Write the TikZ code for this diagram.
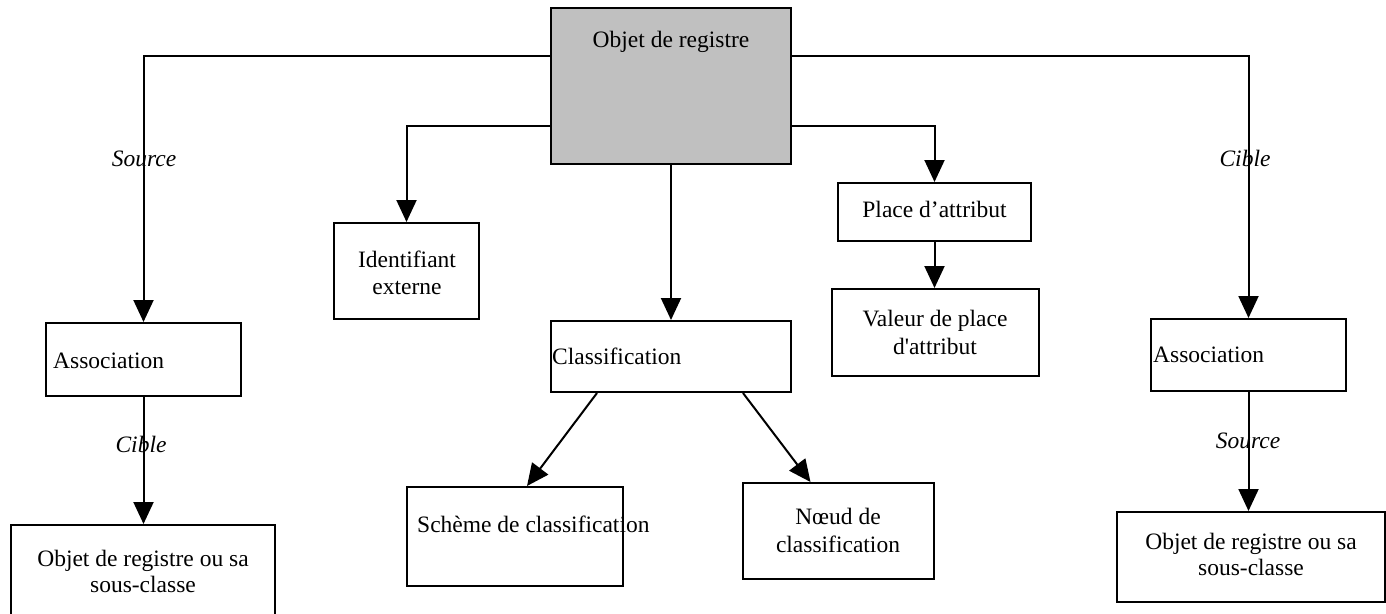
\documentclass[tikz,border=0pt]{standalone}
\usepackage{fontspec}
\setmainfont{Liberation Serif}
\usetikzlibrary{arrows.meta}
\begin{document}
\begin{tikzpicture}[x=1pt,y=-1pt,
  box/.style={draw=black,line width=2pt,inner sep=0pt,minimum width=#1},
  txt/.style={inner sep=0pt,font=\fontsize{23.5}{28}\selectfont},
  lbl/.style={txt,font=\fontsize{23.5}{28}\selectfont\itshape},
  arr/.style={line width=2pt,-{Triangle[width=20pt,length=22pt]}}]
\useasboundingbox (0,0) rectangle (1386,613);

% boxes
\node[box=240pt,minimum height=156pt,fill={rgb,255:red,192;green,192;blue,192}] (main) at (671,86) {};
\node[box=195pt,minimum height=73pt] (assocL) at (143.5,359.5) {};
\node[box=145pt,minimum height=96pt] (ident) at (406.5,271) {};
\node[box=240pt,minimum height=71pt] (classif) at (671,356.5) {};
\node[box=216pt,minimum height=99pt] (scheme) at (515,536.5) {};
\node[box=191pt,minimum height=96pt] (noeud) at (838.5,531) {};
\node[box=193pt,minimum height=58pt] (place) at (934.5,212) {};
\node[box=207pt,minimum height=87pt] (valeur) at (935.5,332.5) {};
\node[box=195pt,minimum height=72pt] (assocR) at (1248.5,355) {};
\node[box=264pt,minimum height=100pt] (objL) at (143,575) {};
\node[box=268pt,minimum height=90pt] (objR) at (1251,557) {};

% texts
\node[txt,anchor=base] (tmain) at (671,47) {Objet de registre};
\node[txt,anchor=base west] (tassocL) at (53,368) {Association};
\node[txt,anchor=base] (tident1) at (407,267) {Identifiant};
\node[txt,anchor=base] (tident2) at (407,294) {externe};
\node[txt,anchor=base west] (tclassif) at (552,364) {Classification};
\node[txt,anchor=base west] (tscheme) at (417,532) {Schème de classification};
\node[txt,anchor=base] (tnoeud1) at (838,524) {Nœud de};
\node[txt,anchor=base] (tnoeud2) at (838,552) {classification};
\node[txt,anchor=base] (tplace) at (934.5,217) {Place d’attribut};
\node[txt,anchor=base] (tvaleur1) at (935,326) {Valeur de place};
\node[txt,anchor=base] (tvaleur2) at (935,354) {d\textquotesingle attribut};
\node[txt,anchor=base west] (tassocR) at (1153,362) {Association};
\node[txt,anchor=base] (tobjL1) at (143,566) {Objet de registre ou sa};
\node[txt,anchor=base] (tobjL2) at (143,592) {sous-classe};
\node[txt,anchor=base] (tobjR1) at (1251,549) {Objet de registre ou sa};
\node[txt,anchor=base] (tobjR2) at (1251,575) {sous-classe};

% role labels
\node[lbl,anchor=base] (lsrcL) at (144,166) {Source};
\node[lbl,anchor=base] (lcibR) at (1245,166) {Cible};
\node[lbl,anchor=base] (lcibL) at (141,452) {Cible};
\node[lbl,anchor=base] (lsrcR) at (1248,448) {Source};

% connectors from the registry object
\draw[arr] ([yshift=-49pt]main.north west) -| (assocL.north);
\draw[arr] ([yshift=-119pt]main.north west) -| (ident.north);
\draw[arr] (main.south) -- (classif.north);
\draw[arr] ([yshift=-119pt]main.north east) -| (place.north);
\draw[arr] ([yshift=-49pt]main.north east) -| (assocR.north);

% lower connectors
\draw[arr] (assocL.south) -- (assocL.south |- objL.north);
\draw[arr] (place.south) -- (place.south |- valeur.north);
\draw[arr] (assocR.south) -- (assocR.south |- objR.north);
\draw[arr] ([xshift=-74pt]classif.south) -- ([xshift=12pt]scheme.north);
\draw[arr] ([xshift=72pt]classif.south) -- ([xshift=-28pt]noeud.north);
\end{tikzpicture}
\end{document}
